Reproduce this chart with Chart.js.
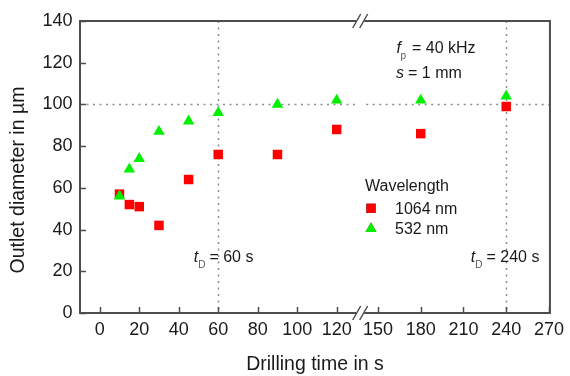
<!DOCTYPE html>
<html>
<head>
<meta charset="utf-8">
<script src="https://cdn.jsdelivr.net/npm/chart.js@4/dist/chart.umd.min.js"></script>
<style>
html,body{margin:0;padding:0;background:#fff;}
#wrap{width:570px;height:376px;position:relative;}
</style>
</head>
<body>
<div id="wrap"><canvas id="c" width="570" height="376"></canvas></div>
<script>
// ---- data ----
const drillTimes = [10, 15, 20, 30, 45, 60, 90, 120, 180, 240];
const diam1064 = [57, 52, 51, 42, 64, 76, 76, 88, 86, 99];
const diam532 = [56, 69, 74, 87, 92, 96, 100, 102, 102, 104];
const xTickLabels = [0, 20, 40, 60, 80, 100, 120, 150, 180, 210, 240, 270];
const yTickLabels = [0, 20, 40, 60, 80, 100, 120, 140];
const seriesNames = ['1064 nm', '532 nm'];
const legendTitle = 'Wavelength';
const refDiameter = 100;
const refTimes = [60, 240];
const refLabels = ['60 s', '240 s'];
const xTitle = 'Drilling time in s';
const yTitle = 'Outlet diameter in \u00b5m';

// ---- broken x axis: 0..120 full scale, 150..270 compressed ----
const BRK = { low: 120, high: 150, highAt: 140.9, factor: 0.7216, mark: 131.9 };
function toAxis(t) { return t <= (BRK.low + BRK.high) / 2 ? t : BRK.highAt + (t - BRK.high) * BRK.factor; }

const FONT = '"Liberation Sans", Arial, Helvetica, sans-serif';
const RED = '#ff0000', GREEN = '#00f000', FRAME = '#4d4d4d', TXT = '#1a1a1a';
const refLabelShift = [-24.5, -35.4];

const overlay = {
  id: 'overlay',
  beforeDatasetsDraw(chart) {
    const { ctx, chartArea: a, scales: { x, y } } = chart;
    const bx = x.getPixelForValue(BRK.mark);
    ctx.save();
    ctx.strokeStyle = '#8c8c8c';
    ctx.lineWidth = 1.5;
    ctx.setLineDash([2, 4.5]);
    const yy = Math.round(y.getPixelForValue(refDiameter)) + 0.5;
    ctx.beginPath();
    ctx.moveTo(a.left, yy); ctx.lineTo(bx - 5, yy);
    ctx.moveTo(bx + 6, yy); ctx.lineTo(a.right, yy);
    ctx.stroke();
    refTimes.forEach(t => {
      const xx = Math.round(x.getPixelForValue(toAxis(t))) + 0.5;
      ctx.beginPath();
      ctx.moveTo(xx, a.top); ctx.lineTo(xx, a.bottom);
      ctx.stroke();
    });
    ctx.restore();
  },
  afterDatasetsDraw(chart) {
    const { ctx, chartArea: a, scales: { x, y } } = chart;
    const bx = x.getPixelForValue(BRK.mark);
    ctx.save();
    // frame
    ctx.strokeStyle = FRAME;
    ctx.lineWidth = 2;
    ctx.beginPath();
    ctx.moveTo(a.left, a.top); ctx.lineTo(bx - 4, a.top);
    ctx.moveTo(bx + 4, a.top); ctx.lineTo(a.right, a.top);
    ctx.moveTo(a.right, a.top - 1); ctx.lineTo(a.right, a.bottom + 1);
    ctx.moveTo(a.right, a.bottom); ctx.lineTo(bx + 4, a.bottom);
    ctx.moveTo(bx - 4, a.bottom); ctx.lineTo(a.left, a.bottom);
    ctx.moveTo(a.left, a.bottom + 1); ctx.lineTo(a.left, a.top - 1);
    ctx.stroke();
    // inner ticks
    ctx.lineWidth = 1.5;
    ctx.beginPath();
    xTickLabels.forEach(v => {
      const px = Math.round(x.getPixelForValue(toAxis(v))) + 0.5;
      ctx.moveTo(px, a.bottom); ctx.lineTo(px, a.bottom - 6);
    });
    yTickLabels.forEach(v => {
      const py = Math.round(y.getPixelForValue(v)) + 0.5;
      ctx.moveTo(a.left, py); ctx.lineTo(a.left + 6, py);
    });
    ctx.stroke();
    // break marks
    ctx.lineWidth = 1.5;
    [a.top, a.bottom].forEach(ly => {
      ctx.beginPath();
      [-3.5, 3.5].forEach(d => {
        ctx.moveTo(bx + d - 4, ly + 7);
        ctx.lineTo(bx + d + 4, ly - 7);
      });
      ctx.stroke();
    });
    // annotations
    ctx.fillStyle = TXT;
    ctx.textBaseline = 'alphabetic';
    ctx.textAlign = 'left';
    ctx.font = 'italic 16px ' + FONT;
    ctx.fillText('f', 396.5, 52.7);
    ctx.fillText('s', 396, 77.5);
    ctx.font = '10px ' + FONT;
    ctx.fillStyle = '#555';
    ctx.fillText('p', 400.5, 58.5);
    ctx.fillStyle = TXT;
    ctx.font = '16px ' + FONT;
    ctx.fillText('= 40 kHz', 412, 52.7);
    ctx.fillText('= 1 mm', 408, 77.5);
    refTimes.forEach((t, i) => {
      const xx = x.getPixelForValue(toAxis(t));
      const tx = xx + refLabelShift[i];
      ctx.font = 'italic 16px ' + FONT;
      ctx.fillStyle = TXT;
      ctx.fillText('t', tx, 262);
      ctx.font = '10px ' + FONT;
      ctx.fillStyle = '#555';
      ctx.fillText('D', tx + 4.5, 268);
      ctx.font = '16px ' + FONT;
      ctx.fillStyle = TXT;
      ctx.fillText('= ' + refLabels[i], tx + 15.7, 262);
    });
    // legend
    ctx.font = '16px ' + FONT;
    ctx.fillText(legendTitle, 365, 191);
    ctx.fillText(seriesNames[0], 395, 213.5);
    ctx.fillText(seriesNames[1], 395, 234);
    const ds = chart.data.datasets;
    Chart.helpers.drawPoint(ctx, { pointStyle: ds[0].pointStyle, radius: 6.5, borderWidth: 0 }, 371, 208.3);
    ctx.fillStyle = RED;
    ctx.fill();
    ctx.beginPath();
    Chart.helpers.drawPoint(ctx, { pointStyle: ds[1].pointStyle, radius: 6.4, borderWidth: 0 }, 371, 228.7);
    ctx.fillStyle = GREEN;
    ctx.fill();
    // y title
    ctx.fillStyle = TXT;
    ctx.font = '19.5px ' + FONT;
    ctx.translate(23.5, 180);
    ctx.rotate(-Math.PI / 2);
    ctx.textAlign = 'center';
    ctx.fillText(yTitle, 0, 0);
    ctx.restore();
  }
};

new Chart(document.getElementById('c'), {
  type: 'scatter',
  data: {
    datasets: [
      {
        label: seriesNames[0],
        data: drillTimes.map((t, i) => ({ x: toAxis(t), y: diam1064[i] })),
        pointStyle: 'rect',
        pointRadius: 6.7,
        pointHoverRadius: 6.7,
        backgroundColor: RED,
        borderColor: RED,
        borderWidth: 0,
        order: 1
      },
      {
        label: seriesNames[1],
        data: drillTimes.map((t, i) => ({ x: toAxis(t), y: diam532[i] })),
        pointStyle: 'triangle',
        pointRadius: 6.6,
        pointHoverRadius: 6.6,
        backgroundColor: GREEN,
        borderColor: GREEN,
        borderWidth: 0,
        order: 0
      }
    ]
  },
  options: {
    responsive: false,
    animation: false,
    devicePixelRatio: 1,
    layout: { padding: { top: 21, right: 18, left: 0, bottom: 0 } },
    plugins: { legend: { display: false }, tooltip: { enabled: false } },
    scales: {
      x: {
        type: 'linear',
        min: -10,
        max: 228,
        grid: { display: false, drawTicks: false },
        border: { display: false },
        afterBuildTicks: s => { s.ticks = xTickLabels.map(v => ({ value: toAxis(v) })); },
        afterFit: s => { s.height = 63; },
        ticks: {
          autoSkip: false,
          maxRotation: 0,
          padding: 6,
          color: TXT,
          font: { family: FONT, size: 18 },
          callback: (v, i) => xTickLabels[i]
        },
        title: {
          display: true,
          text: xTitle,
          color: TXT,
          font: { family: FONT, size: 19.5 },
          padding: { top: 0, bottom: 0 }
        }
      },
      y: {
        min: 0,
        max: 140,
        grid: { display: false, drawTicks: false },
        border: { display: false },
        afterBuildTicks: s => { s.ticks = yTickLabels.map(v => ({ value: v })); },
        afterFit: s => { s.width = 80; },
        ticks: {
          padding: 7.5,
          color: TXT,
          font: { family: FONT, size: 18 },
          callback: (v, i) => yTickLabels[i]
        }
      }
    }
  },
  plugins: [overlay]
});
</script>
</body>
</html>
